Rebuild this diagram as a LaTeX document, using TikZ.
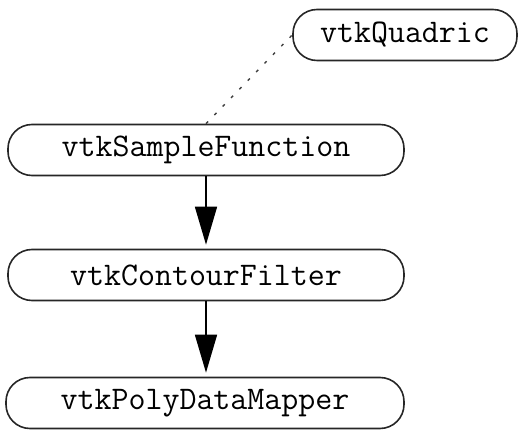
\documentclass[tikz,border=0pt]{standalone}
\usetikzlibrary{arrows.meta}
\begin{document}
\begin{tikzpicture}[x=1pt,y=-1pt,
  box/.style={draw=black!85, line width=1.6pt, rounded corners=24pt, inner sep=0pt,
    minimum height=51pt, font=\fontsize{33}{34}\selectfont\ttfamily},
  flow/.style={line width=1.6pt, -{Triangle[length=38pt,width=22pt]}, shorten >=4pt},
  dep/.style={line width=1.4pt, dash pattern=on 3pt off 9pt, black!75}]
\useasboundingbox (0,0) rectangle (520,430);
\node[box, minimum width=224pt] (q) at (405,35) {vtkQuadric};
\node[box, minimum width=396pt] (s) at (206,150) {vtkSampleFunction};
\node[box, minimum width=396pt] (c) at (206,275) {vtkContourFilter};
\node[box, minimum width=398pt] (m) at (205,403) {vtkPolyDataMapper};
\draw[dep] (s.north) -- (q.west);
\draw[flow] (s.south) -- (s.south |- c.north);
\draw[flow] (c.south) -- (c.south |- m.north);
\end{tikzpicture}
\end{document}
